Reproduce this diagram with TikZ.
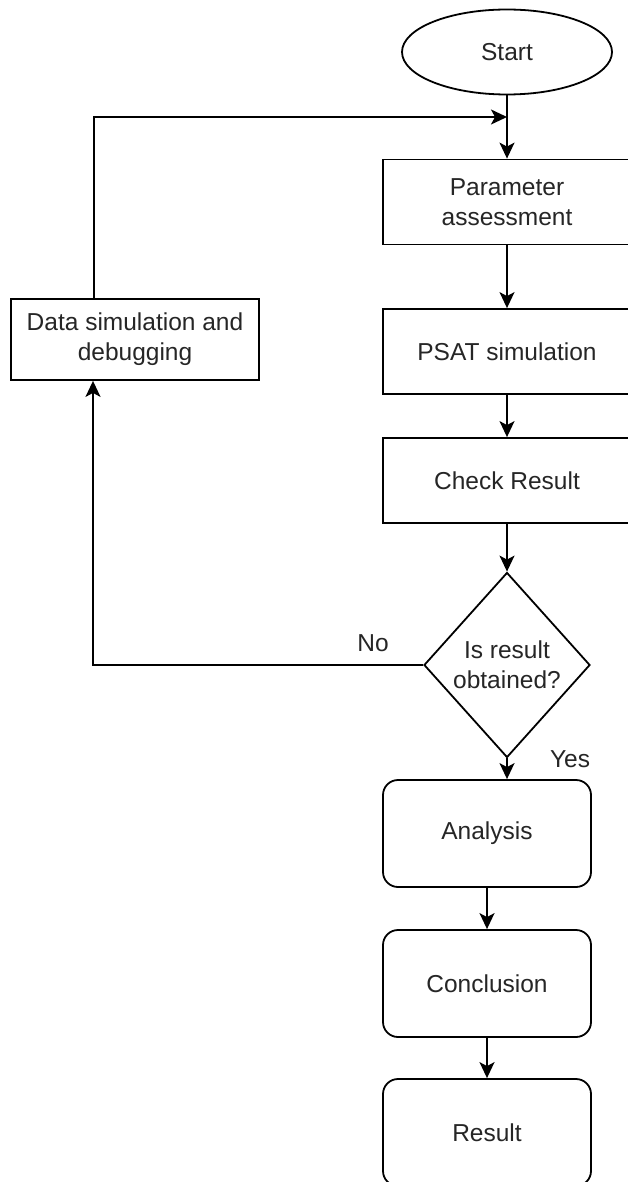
\documentclass[tikz,border=0pt]{standalone}
\usepackage{fontspec}
\setmainfont{Liberation Sans}
\usetikzlibrary{shapes.geometric,arrows.meta}
\definecolor{txtcol}{HTML}{262626}
\begin{document}
\begin{tikzpicture}[x=1pt,y=-1pt,
  every node/.style={font=\fontsize{24.5}{30}\selectfont, text=txtcol},
  box/.style={draw, line width=1.8pt, minimum width=248pt, minimum height=85pt, align=center, inner sep=0pt},
  rbox/.style={box, rounded corners=15pt, minimum width=208pt, minimum height=107pt},
  conn/.style={line width=1.8pt},
  arr/.style={conn, -{Stealth[length=16pt,width=15pt,inset=4pt]}}]
\useasboundingbox (0,0) rectangle (628,1182);
\fill[white] (0,0) rectangle (628,1182);

\node[draw, ellipse, line width=1.8pt, minimum width=210pt, minimum height=85pt, inner sep=0pt] (start) at (507,52) {Start};
\node[box] (param) at (507,202) {Parameter\\assessment};
\node[box] (psat) at (507,351.5) {PSAT simulation};
\node[box] (check) at (507,480.5) {Check Result};
\node[draw, diamond, line width=1.8pt, minimum width=166pt, minimum height=185pt, inner sep=0pt, shape aspect=0.9, align=center] (dec) at (507,665) {Is result\\obtained?};
\node[box, minimum height=81pt] (data) at (135,339.5) {Data simulation and\\debugging};
\node[rbox] (analysis) at (487,833.5) {Analysis};
\node[rbox] (concl) at (487,983.5) {Conclusion};
\node[rbox] (result) at (487,1132.5) {Result};

\node (no) at (373,643) {No};
\node (yes) at (570,759) {Yes};

\draw[arr] (start) -- (param);
\draw[arr] (param) -- (psat);
\draw[arr] (psat) -- (check);
\draw[arr] (check) -- (dec);
\draw[arr] (dec.south) -- (dec.south |- analysis.north);
\draw[arr] (analysis) -- (concl);
\draw[arr] (concl) -- (result);

\coordinate (c1) at (93,665);
\draw[arr] (dec.west) -- (c1) -- (c1 |- data.south);
\coordinate (c2) at (94,117);
\draw[arr] (c2 |- data.north) -- (c2) -- (c2 -| param.north);
\end{tikzpicture}
\end{document}
